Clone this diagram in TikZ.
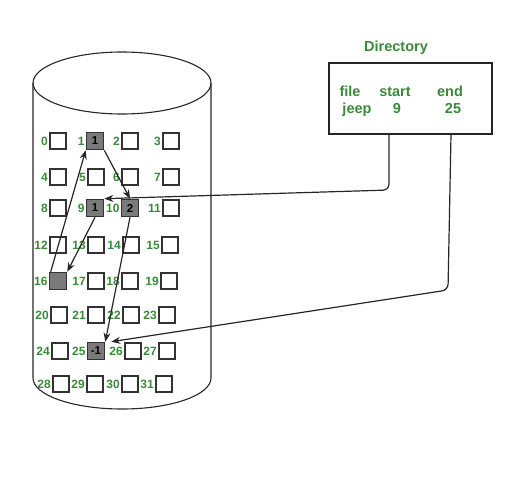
\documentclass[tikz,border=0pt]{standalone}
\usepackage{fontspec}
\setmainfont{Liberation Sans}
\usetikzlibrary{arrows.meta}
\definecolor{lblgreen}{RGB}{58,138,58}
\definecolor{blkgray}{RGB}{122,122,122}
\begin{document}
\begin{tikzpicture}[x=1pt,y=-1pt,
  cell/.style={draw=black!80, line width=1.6pt, fill=white, minimum size=16.5pt, inner sep=0pt},
  used/.style={cell, fill=blkgray, minimum size=17pt, font=\bfseries\fontsize{11.5}{11.5}\selectfont},
  lbl/.style={text=lblgreen, font=\bfseries\fontsize{12}{12}\selectfont, inner sep=1pt, anchor=east},
  dirtxt/.style={text=lblgreen, font=\bfseries\fontsize{14.5}{15}\selectfont, inner sep=0pt, anchor=base},
  outline/.style={draw=black!85, line width=1.1pt},
  link/.style={draw=black!85, line width=1.2pt, -{Stealth[length=9pt,width=7pt]}}
]
\useasboundingbox (0,0) rectangle (513,480);
% cylinder
\draw[outline] (122,83) ellipse [x radius=89, y radius=31];
\draw[outline] (33,83) -- (33,378) arc[start angle=180, end angle=0, x radius=89, y radius=31] -- (211,83);
% free blocks
\foreach \n/\x/\y in {0/58/141, 2/130/141, 3/171/141,
  4/58/177, 5/96/177, 6/130/177, 7/171/177,
  8/58/208, 11/171/208,
  12/58/245, 13/96/245, 14/131/245, 15/170/245,
  17/96/281, 18/130/281, 19/169/281,
  20/59/315, 21/96/315, 22/131/315, 23/167/315,
  24/60/351, 26/133/351, 27/167/351,
  28/61/384, 29/95/384, 30/130/384, 31/164/384} {
  \node[cell] (b\n) at (\x,\y) {};
  \node[lbl] (l\n) at (b\n.west) {\n};
}
% used blocks
\node[used] (b1) at (95,141) {1};
\node[used] (b9) at (95,208) {1};
\node[used] (b10) at (130,208) {2};
\node[used] (b16) at (58,281) {};
\node[used] (b25) at (96,351) {-1};
\foreach \n in {1,9,10,16,25} {
  \node[lbl] (l\n) at (b\n.west) {\n};
}
% directory
\node[dirtxt] (dtitle) at (396,51) {Directory};
\node[outline, minimum width=163pt, minimum height=71pt, inner sep=0pt] (dir) at (410.5,98.5) {};
\node[dirtxt] (tfile) at (350,96) {file};
\node[dirtxt] (tstart) at (395,96) {start};
\node[dirtxt] (tend) at (450,96) {end};
\node[dirtxt] (tjeep) at (357,113) {jeep};
\node[dirtxt] (tnine) at (397,113) {9};
\node[dirtxt] (ttf) at (453,113) {25};
% pointers from directory
\coordinate (sx) at (389,134);
\coordinate (sc) at (389,190);
\coordinate (ex) at (451,134);
\coordinate (ec) at (448,290);
\draw[link, rounded corners=6pt] (dir.south -| sx) -- (sc) -- (b9.north east);
\draw[link, rounded corners=6pt] (dir.south -| ex) -- (ec) -- ([xshift=6pt]b25.north east);
% chain
\draw[link] (b9.south) -- (b16.north east);
\draw[link] ([xshift=2pt]b16.north west) -- (b1.south west);
\draw[link] (b1.south east) -- (b10.north);
\draw[link] (b10.south) -- (b25.north east);
\end{tikzpicture}
\end{document}
